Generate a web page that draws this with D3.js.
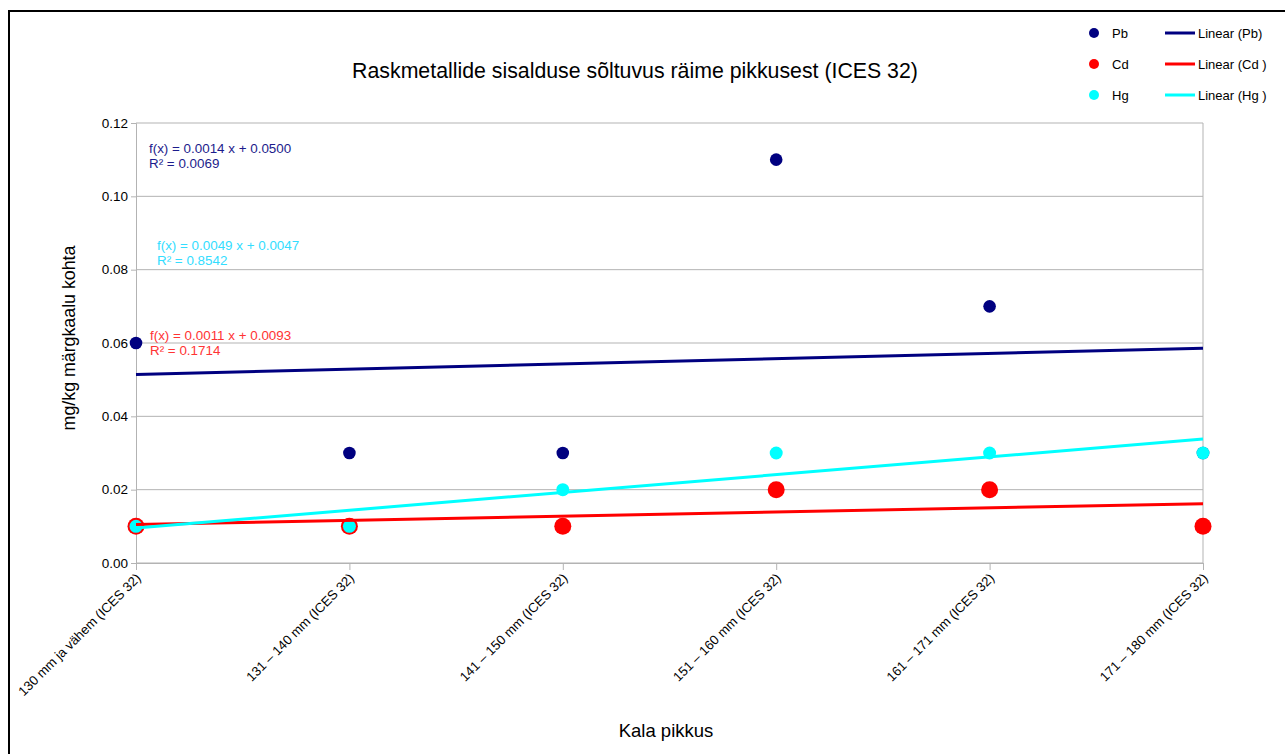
<!DOCTYPE html>
<html>
<head>
<meta charset="utf-8">
<script src="https://cdn.jsdelivr.net/npm/d3@7"></script>
<style>
  html, body { margin: 0; padding: 0; background: #fff; }
  svg { display: block; font-family: "Liberation Sans", Arial, sans-serif; }
</style>
</head>
<body>
<svg id="chart" width="1285" height="754"></svg>
<script>
// Size classes of herring (ICES 32) and measured metal content, mg/kg wet weight
const categories = [
  "130 mm ja vähem (ICES 32)",
  "131 – 140 mm (ICES 32)",
  "141 – 150 mm (ICES 32)",
  "151 – 160 mm (ICES 32)",
  "161 – 171 mm (ICES 32)",
  "171 – 180 mm (ICES 32)"
];
const pbValues = [0.06, 0.03, 0.03, 0.11, 0.07, 0.03];
const cdValues = [0.01, 0.01, 0.01, 0.02, 0.02, 0.01];
const hgValues = [0.01, 0.01, 0.02, 0.03, 0.03, 0.03];
const yTicks = [0, 0.02, 0.04, 0.06, 0.08, 0.10, 0.12];

const series = [
  { name: "Pb", legend: "Linear (Pb)",  values: pbValues, color: "#000080", text: "#1c1c8c", r: 6.3, eq: [149, 153] },
  { name: "Cd", legend: "Linear (Cd )", values: cdValues, color: "#ff0000", text: "#ff3333", r: 8.5, eq: [150, 340] },
  { name: "Hg", legend: "Linear (Hg )", values: hgValues, color: "#00ffff", text: "#33ddff", r: 6.5, eq: [157, 250] }
];

// Least-squares fit with x = 1..n
function linearFit(ys) {
  const xs = ys.map((_, i) => i + 1);
  const mx = d3.mean(xs), my = d3.mean(ys);
  let sxy = 0, sxx = 0, syy = 0;
  xs.forEach((x, i) => { sxy += (x - mx) * (ys[i] - my); sxx += (x - mx) ** 2; syy += (ys[i] - my) ** 2; });
  const slope = sxy / sxx;
  const intercept = my - slope * mx;
  const r2 = (sxy * sxy) / (sxx * syy);
  return { slope, intercept, r2 };
}

const svg = d3.select("#chart");

// Frame around the chart
svg.append("rect")
  .attr("x", 9).attr("y", 11)
  .attr("width", 1400).attr("height", 900)
  .attr("fill", "none").attr("stroke", "#000").attr("stroke-width", 2);

const plot = { left: 136, right: 1203, top: 123, bottom: 563 };

const x = d3.scalePoint().domain(d3.range(1, categories.length + 1)).range([plot.left, plot.right]);
const y = d3.scaleLinear().domain([0, 0.12]).range([plot.bottom, plot.top]);

// Horizontal grid
svg.append("g").selectAll("line").data(yTicks).join("line")
  .attr("x1", plot.left).attr("x2", plot.right)
  .attr("y1", d => y(d)).attr("y2", d => y(d))
  .attr("stroke", "#b3b3b3").attr("stroke-width", 1);

// Right border of the plot area
svg.append("line")
  .attr("x1", plot.right).attr("x2", plot.right)
  .attr("y1", plot.top).attr("y2", plot.bottom)
  .attr("stroke", "#b3b3b3");

// Y axis
const yAxis = svg.append("g")
  .attr("transform", `translate(${plot.left},0)`)
  .call(d3.axisLeft(y).tickValues(yTicks).tickFormat(d3.format(".2f")).tickSize(5).tickPadding(3));
yAxis.select(".domain").attr("stroke", "#b3b3b3");
yAxis.selectAll(".tick line").attr("stroke", "#b3b3b3");
yAxis.selectAll(".tick text").attr("font-size", 13.5).attr("fill", "#000")
  .attr("font-family", "Liberation Sans, Arial, sans-serif");

// X axis
const xAxis = svg.append("g")
  .attr("transform", `translate(0,${plot.bottom})`)
  .call(d3.axisBottom(x).tickFormat(i => categories[i - 1]).tickSize(7).tickPadding(3));
xAxis.select(".domain").attr("stroke", "#b3b3b3");
xAxis.selectAll(".tick line").attr("stroke", "#b3b3b3");
xAxis.selectAll(".tick text")
  .attr("font-size", 13.2).attr("fill", "#000")
  .attr("font-family", "Liberation Sans, Arial, sans-serif")
  .attr("text-anchor", "end")
  .attr("dy", null).attr("y", 0)
  .attr("transform", "translate(5,16) rotate(-45)");

// Points: Pb, then Cd, then Hg on top
series.forEach(s => {
  svg.append("g").selectAll("circle").data(s.values).join("circle")
    .attr("cx", (d, i) => x(i + 1))
    .attr("cy", d => y(d))
    .attr("r", s.r)
    .attr("fill", s.color);
});

// Trend lines and equations
series.forEach(s => {
  const fit = linearFit(s.values);
  const n = s.values.length;
  svg.append("line")
    .attr("x1", x(1)).attr("y1", y(fit.intercept + fit.slope * 1))
    .attr("x2", x(n)).attr("y2", y(fit.intercept + fit.slope * n))
    .attr("stroke", s.color).attr("stroke-width", 3);
  const t = svg.append("text")
    .attr("x", s.eq[0]).attr("y", s.eq[1])
    .attr("font-size", 13.4).attr("fill", s.text);
  t.append("tspan").attr("x", s.eq[0]).text(`f(x) = ${fit.slope.toFixed(4)} x + ${fit.intercept.toFixed(4)}`);
  t.append("tspan").attr("x", s.eq[0]).attr("dy", 15).text(`R² = ${fit.r2.toFixed(4)}`);
});

// Title
svg.append("text")
  .attr("x", 635).attr("y", 78)
  .attr("text-anchor", "middle")
  .attr("font-size", 21.3).attr("fill", "#000")
  .text("Raskmetallide sisalduse sõltuvus räime pikkusest (ICES 32)");

// Axis titles
svg.append("text")
  .attr("transform", "translate(75,338) rotate(-90)")
  .attr("text-anchor", "middle")
  .attr("font-size", 17.8).attr("fill", "#000")
  .text("mg/kg märgkaalu kohta");

svg.append("text")
  .attr("x", 666).attr("y", 737)
  .attr("text-anchor", "middle")
  .attr("font-size", 18.5).attr("fill", "#000")
  .text("Kala pikkus");

// Legend
const legend = svg.append("g");
series.forEach((s, i) => {
  const ly = 33 + i * 31;
  legend.append("circle").attr("cx", 1094).attr("cy", ly).attr("r", 5).attr("fill", s.color);
  legend.append("text").attr("x", 1112).attr("y", ly + 5)
    .attr("font-size", 13).attr("fill", "#000").text(s.name);
  legend.append("line").attr("x1", 1165).attr("x2", 1195).attr("y1", ly).attr("y2", ly)
    .attr("stroke", s.color).attr("stroke-width", 3);
  legend.append("text").attr("x", 1198).attr("y", ly + 5)
    .attr("font-size", 13).attr("fill", "#000").text(s.legend);
});
</script>
</body>
</html>
